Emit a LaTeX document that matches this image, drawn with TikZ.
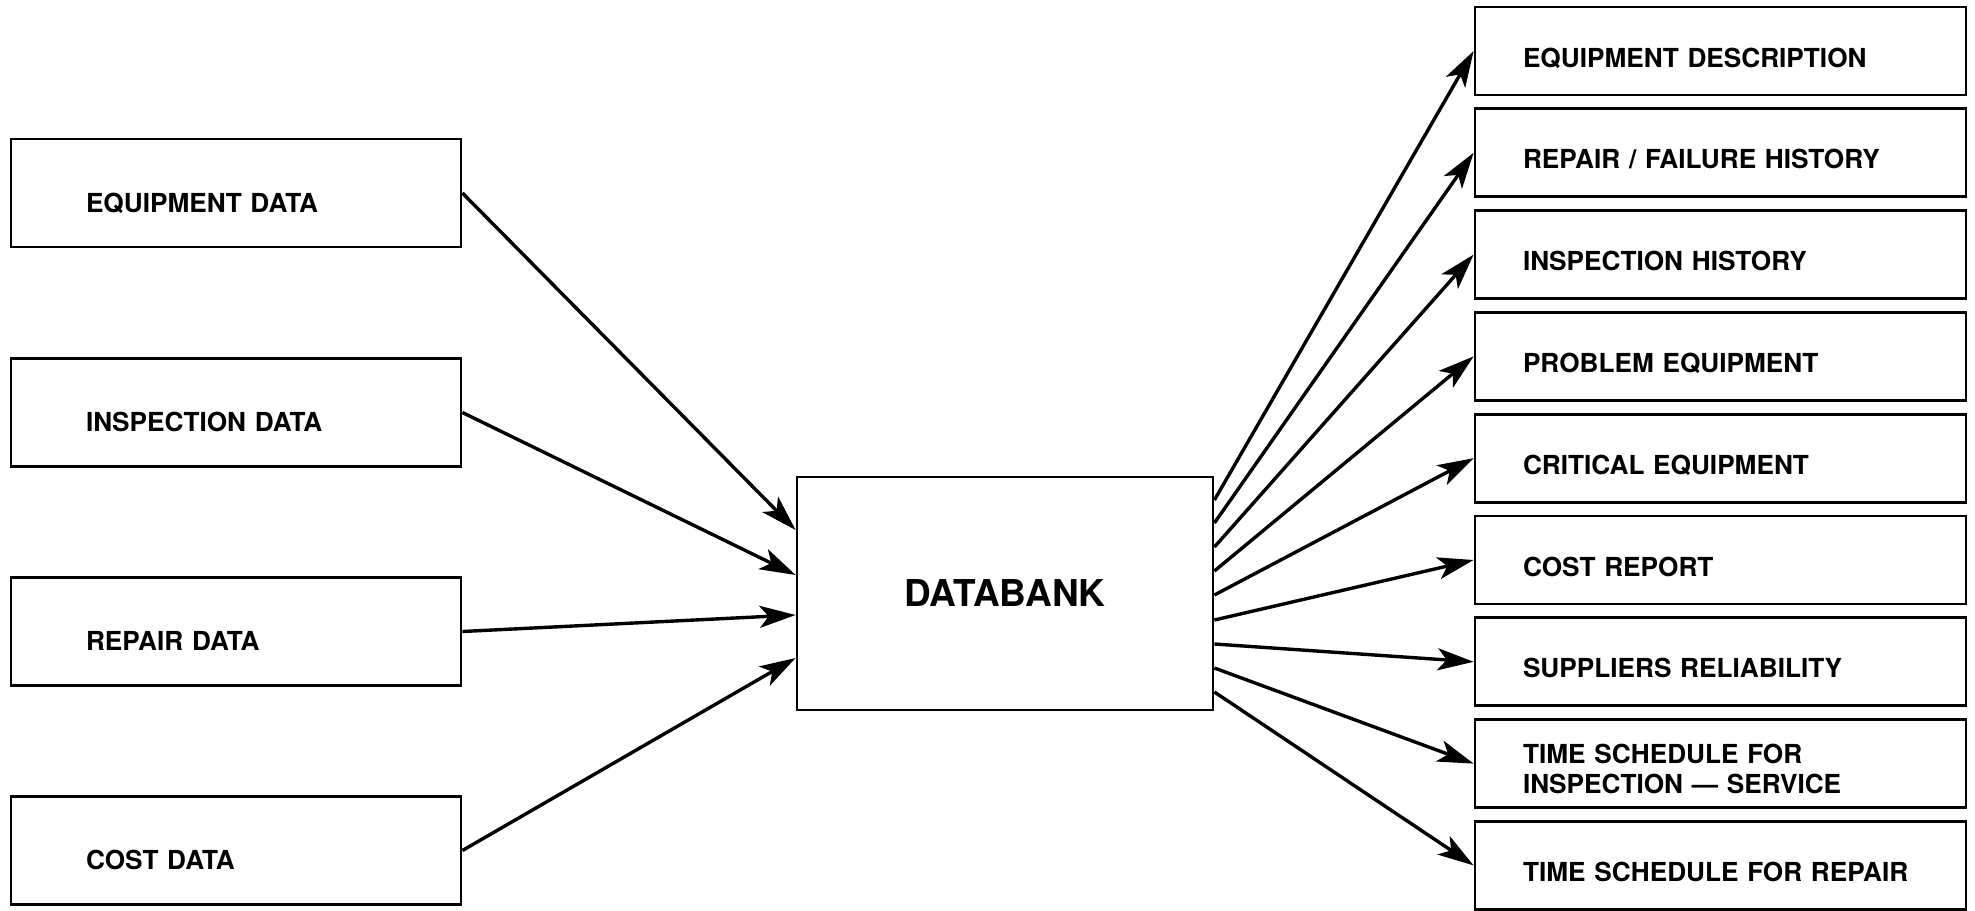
\documentclass[tikz,border=0pt]{standalone}
\usepackage{fontspec}
\setmainfont{TeX Gyre Heros}
\usetikzlibrary{arrows.meta}

\tikzset{every picture/.style={line width=1.4pt}}
\tikzset{
  inbox/.style={draw, rectangle, minimum width=225pt, minimum height=54pt,
    inner xsep=37.5pt, text width=150pt, align=left,
    text height=19pt, text depth=0pt, font=\fontsize{13.1}{15}\selectfont\bfseries},
  outbox/.style={draw, rectangle, minimum width=245.5pt, minimum height=44pt,
    inner xsep=24pt, text width=197.5pt, align=left,
    text height=16pt, text depth=0pt, font=\fontsize{13.1}{15}\selectfont\bfseries},
  flow/.style={line width=1.7pt, -{Stealth[length=18pt,width=11pt,inset=4.5pt]}}
}

\begin{document}
\begin{tikzpicture}[x=0.5pt,y=0.5pt,yscale=-1,xscale=1]
\useasboundingbox (0,0) rectangle (1975,910);

%Input boxes
\node [inbox] (eqdata) at (236,193) {EQUIPMENT DATA};
\node [inbox] (insdata) at (236,412.5) {INSPECTION DATA};
\node [inbox] (repdata) at (236,631.5) {REPAIR DATA};
\node [inbox] (costdata) at (236,850.5) {COST DATA};

%Databank
\node [draw, rectangle, minimum width=208pt, minimum height=116.5pt,
  font=\fontsize{18.5}{21}\selectfont\bfseries] (db) at (1005,593.5) {DATABANK};

%Output boxes
\node [outbox] (eqdesc) at (1720.5,51) {EQUIPMENT DESCRIPTION};
\node [outbox] (repfail) at (1720.5,152.8) {REPAIR / FAILURE HISTORY};
\node [outbox] (inshist) at (1720.5,254.6) {INSPECTION HISTORY};
\node [outbox] (probeq) at (1720.5,356.4) {PROBLEM EQUIPMENT};
\node [outbox] (criteq) at (1720.5,458.2) {CRITICAL EQUIPMENT};
\node [outbox] (costrep) at (1720.5,560) {COST REPORT};
\node [outbox] (supprel) at (1720.5,661.8) {SUPPLIERS RELIABILITY};
\node [outbox, text height=15pt, text depth=15pt] (tsins) at (1720.5,763.6) {TIME SCHEDULE FOR\\INSPECTION --- SERVICE};
\node [outbox] (tsrep) at (1720.5,865.4) {TIME SCHEDULE FOR REPAIR};

%Arrows into the databank
\draw [flow] (eqdata.east) -- (db.west |- 0,530);
\draw [flow] (insdata.east) -- (db.west |- 0,575);
\draw [flow] (repdata.east) -- (db.west |- 0,615);
\draw [flow] (costdata.east) -- (db.west |- 0,658);

%Arrows out of the databank
\draw [flow] (db.east |- 0,500) -- (eqdesc.west);
\draw [flow] (db.east |- 0,523) -- (repfail.west);
\draw [flow] (db.east |- 0,547) -- (inshist.west);
\draw [flow] (db.east |- 0,571) -- (probeq.west);
\draw [flow] (db.east |- 0,595) -- (criteq.west);
\draw [flow] (db.east |- 0,620) -- (costrep.west);
\draw [flow] (db.east |- 0,644) -- (supprel.west);
\draw [flow] (db.east |- 0,668) -- (tsins.west);
\draw [flow] (db.east |- 0,692) -- (tsrep.west);

\end{tikzpicture}
\end{document}
